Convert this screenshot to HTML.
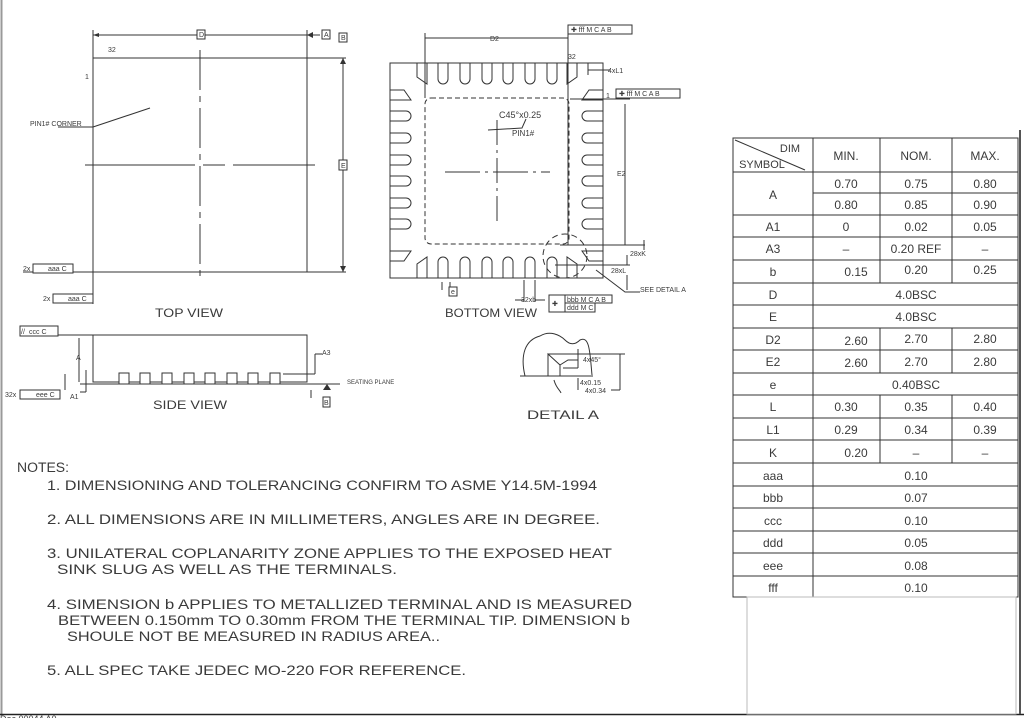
<!DOCTYPE html>
<html><head><meta charset="utf-8"><style>
html,body{margin:0;padding:0;background:#fff;}
svg{display:block;}
text{font-family:"Liberation Sans",sans-serif;fill:#3a3a3a;}
</style></head><body>
<svg width="1024" height="718" viewBox="0 0 1024 718" xmlns="http://www.w3.org/2000/svg">
<g stroke="#333" fill="none" stroke-width="1">
<line x1="1.5" y1="0" x2="1.5" y2="714" stroke="#999" stroke-width="2"/>
<line x1="0" y1="714.5" x2="1024" y2="714.5" stroke="#222" stroke-width="1.5"/>
<line x1="1020" y1="130" x2="1020" y2="714" stroke="#555" stroke-width="2"/>

<rect x="93" y="58" width="214" height="214"/>
<line x1="93" y1="30" x2="93" y2="304"/>
<line x1="307" y1="30" x2="307" y2="58"/>
<line x1="93" y1="35" x2="307" y2="35"/>
<line x1="307" y1="58" x2="346" y2="58"/>
<line x1="307" y1="272" x2="346" y2="272"/>
<line x1="343" y1="58" x2="343" y2="272"/>
<line x1="307" y1="35" x2="320" y2="35"/>
<line x1="200" y1="50" x2="200" y2="282" stroke-dasharray="40,6,6,6"/>
<line x1="85" y1="165" x2="315" y2="165" stroke-dasharray="110,8,22,8"/>
<line x1="58" y1="127" x2="93" y2="127"/>
<line x1="93" y1="127" x2="150" y2="108"/>
<line x1="23" y1="272" x2="93" y2="272"/>
</g>
<g fill="#333">
<polygon points="307,35 313,32 313,38"/>
<polygon points="343,58 340,64 346,64"/>
<polygon points="343,272 340,266 346,266"/>
<polygon points="93,35 99,33 99,37"/>
</g>
<g stroke="#333" fill="#fff" stroke-width="1">
<rect x="197" y="30" width="8" height="9"/>
<rect x="322" y="30" width="8" height="9"/>
<rect x="339" y="33" width="8" height="9"/>
<rect x="339" y="160" width="8" height="10"/>
<rect x="33" y="264" width="40" height="9"/>
<rect x="53" y="294" width="40" height="9"/>
<rect x="20" y="326" width="38" height="10"/>
<rect x="20" y="390" width="40" height="9"/>
</g>
<g font-size="7">
<text x="199" y="37">D</text><text x="324" y="37">A</text><text x="341" y="40">B</text><text x="341" y="168">E</text>
<text x="23" y="271">2x</text><text x="48" y="271">aaa C</text>
<text x="43" y="301">2x</text><text x="68" y="301">aaa C</text>
<text x="29" y="334">ccc C</text><text x="21" y="334">//</text>
<text x="5" y="397">32x</text><text x="36" y="397">eee C</text>
<text x="108" y="52">32</text><text x="85" y="79">1</text>
<text x="30" y="126">PIN1# CORNER</text>
<text x="347" y="384" font-size="6">SEATING PLANE</text>
<text x="322" y="355">A3</text><text x="76" y="360">A</text><text x="70" y="399">A1</text>
</g>
<text x="155" y="317" font-size="12" textLength="68" lengthAdjust="spacingAndGlyphs">TOP VIEW</text>

<g stroke="#333" fill="none">
<rect x="93" y="335" width="214" height="47"/>
<line x1="58" y1="335" x2="93" y2="335"/>
<line x1="80" y1="384" x2="340" y2="384"/>
<line x1="283" y1="374" x2="315" y2="374"/>
<line x1="315" y1="354" x2="315" y2="374"/>
<line x1="315" y1="354" x2="322" y2="354"/>
<line x1="79" y1="338" x2="79" y2="382"/>
<line x1="86" y1="370" x2="86" y2="392"/>
<line x1="86" y1="392" x2="80" y2="392"/>
<line x1="65" y1="374" x2="65" y2="390"/>
<line x1="311" y1="390" x2="311" y2="398"/>
<g fill="#fff">
<rect x="119" y="373" width="10" height="11"/><rect x="140" y="373" width="10" height="11"/>
<rect x="162" y="373" width="10" height="11"/><rect x="184" y="373" width="10" height="11"/>
<rect x="205" y="373" width="10" height="11"/><rect x="227" y="373" width="10" height="11"/>
<rect x="248" y="373" width="10" height="11"/><rect x="270" y="373" width="10" height="11"/>
</g>
<line x1="93" y1="382" x2="119" y2="382"/>
<rect x="323" y="397" width="7" height="10" fill="#fff"/>
</g>
<polygon points="327,384 323,390 331,390" fill="#333"/>
<text x="324" y="405" font-size="7">B</text>
<text x="153" y="409" font-size="12" textLength="74" lengthAdjust="spacingAndGlyphs">SIDE VIEW</text>

<g stroke="#333" fill="none">
<rect x="390" y="63" width="213" height="215"/>
<rect x="425" y="98" width="144" height="146" rx="6" stroke-dasharray="5,3"/>
<line x1="497" y1="120" x2="497" y2="225" stroke-dasharray="25,5,3,5"/>
<line x1="445" y1="172" x2="550" y2="172" stroke-dasharray="35,5,3,5"/>
<line x1="494" y1="172" x2="500" y2="172"/>
<path d="M417,63 v14 l10,7 v-21 M438,63 v16 a5,5 0 0 0 10,0 v-16 M460,63 v16 a5,5 0 0 0 10,0 v-16 M482,63 v16 a5,5 0 0 0 10,0 v-16 M503,63 v16 a5,5 0 0 0 10,0 v-16 M525,63 v16 a5,5 0 0 0 10,0 v-16 M547,63 v16 a5,5 0 0 0 10,0 v-16 M567,63 v21 l10,-7 v-14"/>
<path d="M417,278 v-14 l10,-7 v21 M438,278 v-16 a5,5 0 0 1 10,0 v16 M460,278 v-16 a5,5 0 0 1 10,0 v16 M482,278 v-16 a5,5 0 0 1 10,0 v16 M503,278 v-16 a5,5 0 0 1 10,0 v16 M525,278 v-16 a5,5 0 0 1 10,0 v16 M547,278 v-16 a5,5 0 0 1 10,0 v16 M567,278 v-21 l10,7 v14"/>
<path d="M390,90 h14 l7,10 h-21 M390,111 h16 a5,5 0 0 1 0,10 h-16 M390,133 h16 a5,5 0 0 1 0,10 h-16 M390,155 h16 a5,5 0 0 1 0,10 h-16 M390,176 h16 a5,5 0 0 1 0,10 h-16 M390,198 h16 a5,5 0 0 1 0,10 h-16 M390,219 h16 a5,5 0 0 1 0,10 h-16 M390,251 h21 l-7,10 h-14"/>
<path d="M603,90 h-14 l-7,10 h21 M603,111 h-16 a5,5 0 0 0 0,10 h16 M603,133 h-16 a5,5 0 0 0 0,10 h16 M603,155 h-16 a5,5 0 0 0 0,10 h16 M603,176 h-16 a5,5 0 0 0 0,10 h16 M603,198 h-16 a5,5 0 0 0 0,10 h16 M603,219 h-16 a5,5 0 0 0 0,10 h16 M603,251 h-21 l7,10 h14"/>
<line x1="425" y1="33" x2="425" y2="98"/>
<line x1="568" y1="25" x2="568" y2="245"/>
<line x1="425" y1="38" x2="568" y2="38"/>
<line x1="570" y1="99" x2="630" y2="99"/>
<line x1="625" y1="104" x2="625" y2="245"/>
<line x1="560" y1="245" x2="645" y2="245"/>
<line x1="555" y1="265" x2="630" y2="265"/>
<line x1="627" y1="255" x2="627" y2="265"/>
<line x1="627" y1="275" x2="627" y2="290"/>
<line x1="644" y1="240" x2="644" y2="250"/>
<line x1="588" y1="70" x2="610" y2="70"/>
<line x1="588" y1="63" x2="588" y2="75"/>
<circle cx="565" cy="256" r="22" stroke-dasharray="6,4"/>
<path d="M596,270 L625,292 L640,292"/>
<path d="M526,119 L522,128 L488,130"/>
<line x1="450" y1="282" x2="450" y2="290"/><line x1="442" y1="282" x2="442" y2="290"/>
<line x1="524" y1="280" x2="524" y2="302"/><line x1="535" y1="280" x2="535" y2="302"/>
<line x1="515" y1="300" x2="524" y2="300"/><line x1="535" y1="300" x2="545" y2="300"/>
<g fill="#fff">
<rect x="568" y="25" width="64" height="9"/>
<rect x="616" y="89" width="64" height="9"/>
<rect x="449" y="287" width="8" height="9"/>
<rect x="549" y="295" width="16" height="17"/>
<rect x="565" y="295" width="47" height="8"/>
<rect x="565" y="303" width="30" height="9"/>
</g>
</g>
<g font-size="7">
<text x="571" y="32">✚ fff M C A B</text>
<text x="619" y="96">✚ fff M C A B</text>
<text x="490" y="41">D2</text>
<text x="568" y="59">32</text>
<text x="608" y="73">4xL1</text>
<text x="606" y="98">1</text>
<text x="617" y="176">E2</text>
<text x="630" y="256">28xK</text>
<text x="611" y="273">28xL</text>
<text x="640" y="292">SEE DETAIL A</text>
<text x="451" y="294">e</text>
<text x="521" y="302">32xb</text>
<text x="552" y="306">✚</text>
<text x="567" y="302">bbb M C A B</text>
<text x="567" y="310">ddd M C</text>
</g>
<text x="499" y="118" font-size="9">C45°x0.25</text>
<text x="512" y="136" font-size="8">PIN1#</text>
<text x="445" y="317" font-size="12" textLength="92" lengthAdjust="spacingAndGlyphs">BOTTOM VIEW</text>

<g stroke="#333" fill="none">
<path d="M525,376 C520,355 525,340 540,336 C550,330 560,335 565,340 C570,345 575,345 580,340 C590,335 590,355 592,375"/>
<line x1="520" y1="376" x2="593" y2="376"/>
<line x1="548" y1="354" x2="625" y2="354"/>
<path d="M548,376 V354 L560,365 V376"/>
<path d="M560,365 L568,360 H578"/>
<line x1="578" y1="349" x2="578" y2="368"/>
<line x1="563" y1="368" x2="578" y2="368"/>
<line x1="620" y1="354" x2="620" y2="376"/>
<line x1="620" y1="376" x2="620" y2="390"/><line x1="611" y1="390" x2="620" y2="390"/>
<line x1="578" y1="378" x2="578" y2="390"/>
<path d="M554,380 C556,388 560,390 561,393"/>
</g>
<g font-size="7">
<text x="583" y="362">4x45°</text>
<text x="580" y="385">4x0.15</text>
<text x="585" y="393">4x0.34</text>
</g>
<text x="527" y="419" font-size="12" textLength="72" lengthAdjust="spacingAndGlyphs">DETAIL A</text>

<g font-size="13.5">
<text x="17" y="472" textLength="52" lengthAdjust="spacingAndGlyphs">NOTES:</text>
<text x="47" y="490" textLength="550" lengthAdjust="spacingAndGlyphs">1. DIMENSIONING AND TOLERANCING CONFIRM TO ASME Y14.5M-1994</text>
<text x="47" y="524" textLength="553" lengthAdjust="spacingAndGlyphs">2. ALL DIMENSIONS ARE IN MILLIMETERS, ANGLES ARE IN DEGREE.</text>
<text x="47" y="558" textLength="565" lengthAdjust="spacingAndGlyphs">3. UNILATERAL COPLANARITY ZONE APPLIES TO THE EXPOSED HEAT</text>
<text x="57" y="574" textLength="340" lengthAdjust="spacingAndGlyphs">SINK SLUG AS WELL AS THE TERMINALS.</text>
<text x="47" y="609" textLength="585" lengthAdjust="spacingAndGlyphs">4. SIMENSION b APPLIES TO METALLIZED TERMINAL AND IS MEASURED</text>
<text x="58" y="625" textLength="572" lengthAdjust="spacingAndGlyphs">BETWEEN 0.150mm TO 0.30mm FROM THE TERMINAL TIP. DIMENSION b</text>
<text x="67" y="641" textLength="373" lengthAdjust="spacingAndGlyphs">SHOULE NOT BE MEASURED IN RADIUS AREA..</text>
<text x="47" y="675" textLength="419" lengthAdjust="spacingAndGlyphs">5. ALL SPEC TAKE JEDEC MO-220 FOR REFERENCE.</text>
</g>
<text x="0" y="722" font-size="9">Doc 00044 A0</text>

<g stroke="#333" fill="none">
<rect x="733" y="138" width="285" height="459" fill="#fff"/>
<line x1="813" y1="138" x2="813" y2="597"/>
<line x1="880" y1="138" x2="880" y2="283"/><line x1="952" y1="138" x2="952" y2="283"/>
<line x1="880" y1="328" x2="880" y2="373"/><line x1="952" y1="328" x2="952" y2="373"/>
<line x1="880" y1="395" x2="880" y2="463"/><line x1="952" y1="395" x2="952" y2="463"/>
<line x1="813" y1="193" x2="1018" y2="193"/>
<line x1="735" y1="140" x2="805" y2="170"/>
<path d="M733,172H1018 M733,215H1018 M733,237H1018 M733,260H1018 M733,283H1018 M733,305H1018 M733,328H1018 M733,350H1018 M733,373H1018 M733,395H1018 M733,418H1018 M733,440H1018 M733,463H1018 M733,486H1018 M733,508H1018 M733,531H1018 M733,553H1018 M733,576H1018"/>
<rect x="747" y="597" width="269" height="117" stroke="#bbb"/>
</g>
<g font-size="12" text-anchor="middle">
<text x="790" y="152" font-size="11">DIM</text><text x="762" y="168" font-size="11">SYMBOL</text>
<text x="846" y="160">MIN.</text><text x="916" y="160">NOM.</text><text x="985" y="160">MAX.</text>
<text x="773" y="199">A</text>
<text x="846" y="188">0.70</text><text x="916" y="188">0.75</text><text x="985" y="188">0.80</text>
<text x="846" y="209">0.80</text><text x="916" y="209">0.85</text><text x="985" y="209">0.90</text>
<text x="773" y="231">A1</text><text x="846" y="231">0</text><text x="916" y="231">0.02</text><text x="985" y="231">0.05</text>
<text x="773" y="253">A3</text><text x="846" y="253">–</text><text x="916" y="253">0.20 REF</text><text x="985" y="253">–</text>
<text x="773" y="276">b</text><text x="856" y="276">0.15</text><text x="916" y="274">0.20</text><text x="985" y="274">0.25</text>
<text x="773" y="299">D</text><text x="916" y="299">4.0BSC</text>
<text x="773" y="321">E</text><text x="916" y="321">4.0BSC</text>
<text x="773" y="344">D2</text><text x="856" y="345">2.60</text><text x="916" y="343">2.70</text><text x="985" y="343">2.80</text>
<text x="773" y="366">E2</text><text x="856" y="367">2.60</text><text x="916" y="366">2.70</text><text x="985" y="366">2.80</text>
<text x="773" y="389">e</text><text x="916" y="389">0.40BSC</text>
<text x="773" y="411">L</text><text x="846" y="411">0.30</text><text x="916" y="411">0.35</text><text x="985" y="411">0.40</text>
<text x="773" y="434">L1</text><text x="846" y="434">0.29</text><text x="916" y="434">0.34</text><text x="985" y="434">0.39</text>
<text x="773" y="457">K</text><text x="856" y="457">0.20</text><text x="916" y="457">–</text><text x="985" y="457">–</text>
<text x="773" y="480">aaa</text><text x="916" y="480">0.10</text>
<text x="773" y="502">bbb</text><text x="916" y="502">0.07</text>
<text x="773" y="525">ccc</text><text x="916" y="525">0.10</text>
<text x="773" y="547">ddd</text><text x="916" y="547">0.05</text>
<text x="773" y="570">eee</text><text x="916" y="570">0.08</text>
<text x="773" y="592">fff</text><text x="916" y="592">0.10</text>
</g>
</svg>
</body></html>
